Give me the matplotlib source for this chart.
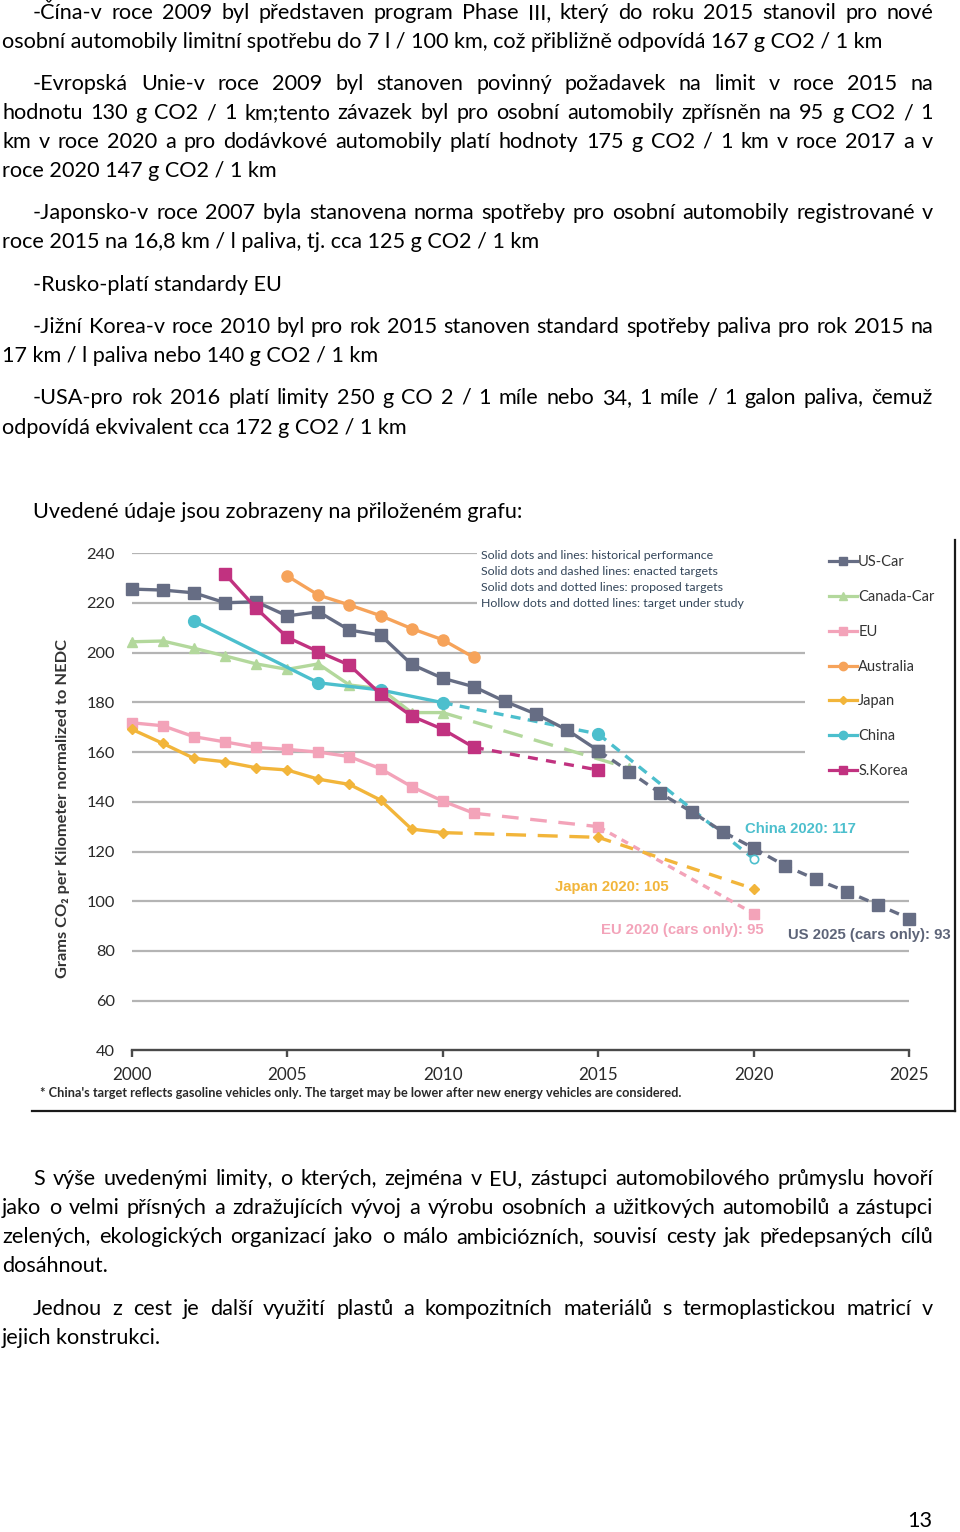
import matplotlib
matplotlib.use("Agg")
import matplotlib.pyplot as plt
from matplotlib.lines import Line2D

# ---------------- data ----------------
us_years = list(range(2000, 2026))
us_values = [225.6, 225.2, 224.1, 220.1, 220.5, 214.8, 216.5, 209.1, 207.1, 195.3,
             189.7, 186.3, 180.4, 175.3, 168.9, 160.6, 152.1, 143.4, 136.0, 128.0,
             121.3, 114.3, 108.8, 103.8, 98.5, 93.0]
us_last_historical = 2015

canada_years = list(range(2000, 2011))
canada_values = [204.4, 204.7, 201.8, 198.7, 195.5, 193.3, 195.5, 187.0, 185.5, 175.9, 175.9]
canada_enacted_years = [2010, 2016]
canada_enacted_values = [175.9, 153.5]

eu_years = list(range(2000, 2012))
eu_values = [171.8, 170.6, 166.2, 164.1, 161.9, 161.1, 160.0, 158.2, 153.3, 146.1, 140.3, 135.4]
eu_enacted_years = [2011, 2015]
eu_enacted_values = [135.4, 130.0]
eu_proposed_years = [2015, 2020]
eu_proposed_values = [130.0, 95.0]

australia_years = list(range(2005, 2012))
australia_values = [230.9, 223.2, 219.2, 214.9, 209.7, 205.2, 198.1]

japan_years = list(range(2000, 2011))
japan_values = [169.2, 163.5, 157.5, 156.1, 153.7, 152.8, 149.1, 147.0, 140.7, 129.0, 127.6]
japan_enacted_years = [2010, 2015]
japan_enacted_values = [127.6, 125.7]
japan_proposed_years = [2015, 2020]
japan_proposed_values = [125.7, 105.0]

china_years = [2002, 2006, 2008, 2010]
china_values = [212.8, 187.9, 185.0, 179.9]
china_enacted_years = [2010, 2015]
china_enacted_values = [179.9, 167.3]
china_study_years = [2015, 2020]
china_study_values = [167.3, 117.0]

korea_years = list(range(2003, 2012))
korea_values = [231.7, 217.9, 206.2, 200.4, 195.0, 183.4, 174.5, 169.2, 161.9]
korea_enacted_years = [2011, 2015]
korea_enacted_values = [161.9, 152.8]

legend_labels = ["US-Car", "Canada-Car", "EU", "Australia", "Japan", "China", "S.Korea"]
x_ticks = [2000, 2005, 2010, 2015, 2020, 2025]
y_ticks = [40, 60, 80, 100, 120, 140, 160, 180, 200, 220, 240]

key_lines = ["Solid dots and lines: historical performance",
             "Solid dots and dashed lines: enacted targets",
             "Solid dots and dotted lines: proposed targets",
             "Hollow dots and dotted lines: target under study"]

target_labels = ["China 2020: 117", "Japan 2020: 105",
                 "EU 2020 (cars only): 95", "US 2025 (cars only): 93"]

y_label = "Grams CO\u2082 per Kilometer normalized to NEDC"
footnote = ("* China's target reflects gasoline vehicles only. The target may be lower "
            "after new energy vehicles are considered.")

text_above = [
    ("-Čína-v roce 2009 byl představen program Phase III, který do roku 2015 stanovil pro nové", True, True),
    ("osobní automobily limitní spotřebu do 7 l / 100 km, což přibližně odpovídá 167 g CO2 / 1 km", False, False),
    ("-Evropská Unie-v roce 2009 byl stanoven povinný požadavek na limit v roce 2015 na", True, True),
    ("hodnotu 130 g CO2 / 1 km;tento závazek byl pro osobní automobily zpřísněn na 95 g CO2 / 1", False, True),
    ("km v roce 2020 a pro dodávkové automobily platí hodnoty 175 g CO2 / 1 km v roce 2017 a v", False, True),
    ("roce 2020 147 g CO2 / 1 km", False, False),
    ("-Japonsko-v roce 2007 byla stanovena norma spotřeby pro osobní automobily registrované v", True, True),
    ("roce 2015 na 16,8 km / l paliva, tj. cca 125 g CO2 / 1 km", False, False),
    ("-Rusko-platí standardy EU", True, False),
    ("-Jižní Korea-v roce 2010 byl pro rok 2015 stanoven standard spotřeby paliva pro rok 2015 na", True, True),
    ("17 km / l paliva nebo 140 g CO2 / 1 km", False, False),
    ("-USA-pro rok 2016 platí limity 250 g CO 2 / 1 míle nebo 34, 1 míle / 1 galon paliva, čemuž", True, True),
    ("odpovídá ekvivalent cca 172 g CO2 / 1 km", False, False),
    ("Uvedené údaje jsou zobrazeny na přiloženém grafu:", True, False),
]
text_below = [
    ("S výše uvedenými limity, o kterých, zejména v EU, zástupci automobilového průmyslu hovoří", True, True),
    ("jako o velmi přísných a zdražujících vývoj a výrobu osobních a užitkových automobilů a zástupci", False, True),
    ("zelených, ekologických organizací jako o málo ambiciózních, souvisí cesty jak předepsaných cílů", False, True),
    ("dosáhnout.", False, False),
    ("Jednou z cest je další využití plastů a kompozitních materiálů s termoplastickou matricí v", True, True),
    ("jejich konstrukci.", False, False),
]
page_number = "13"

# ---------------- layout / style ----------------
W, H = 960, 1532
fig = plt.figure(figsize=(W / 100, H / 100), dpi=100)
fig.patch.set_facecolor("white")
FONT = ["Lato", "DejaVu Sans"]
plt.rcParams["font.family"] = FONT
renderer = fig.canvas.get_renderer()


def fx(px):
    return px / W


def fy(py):
    return 1 - py / H


def width_of(s, size, **kw):
    t = fig.text(0, 0, s, fontsize=size, **kw)
    w = t.get_window_extent(renderer).width
    t.remove()
    return w


def fit(s, target, base=10, **kw):
    return base * target / width_of(s, base, **kw)


C_US = "#666d84"
C_CA = "#b3d89c"
C_EU = "#f3a3b9"
C_AU = "#f6a35a"
C_JP = "#f2b53a"
C_CN = "#4cbfcd"
C_KR = "#c13280"
GRID = "#b4b4b4"
DARK = "#2a2a2a"

# ---- chart axes ----
X0, X1 = 131.7, 909.3
Y_TOP, Y_BOT = 553.3, 1050.3
ax = fig.add_axes([fx(X0), fy(Y_BOT), (X1 - X0) / W, (Y_BOT - Y_TOP) / H])
ax.set_xlim(2000, 2025)
ax.set_ylim(40, 240)
ax.patch.set_alpha(0)
for s in ("left", "top", "right"):
    ax.spines[s].set_visible(False)
ax.spines["bottom"].set_bounds(2000, 2025)
ax.spines["bottom"].set_color("#4a4a4a")
ax.spines["bottom"].set_linewidth(1.7)
ax.set_xticks(x_ticks)
ax.set_xticklabels([str(v) for v in x_ticks])
ax.set_yticks(y_ticks)
ax.set_yticklabels([str(v) for v in y_ticks])
ax.tick_params(axis="x", direction="out", length=5, width=1.7, color="#4a4a4a",
               pad=7, labelsize=12.3, labelcolor=DARK)
ax.tick_params(axis="y", length=0, pad=12, labelsize=11.8, labelcolor=DARK)

# gridlines (extents follow the reference drawing)
grid_extent = {60: 2025, 80: 2025, 100: 2025, 120: 2025, 140: 2025,
               160: 2021.65, 180: 2021.65, 200: 2021.65, 220: 2011.1, 240: 2011.1}
for v in y_ticks[1:]:
    ax.hlines(v, 2000, grid_extent[v], colors=GRID, lw=1.6, zorder=1)

LW = 2.4


def plot(xs, ys, color, marker, ms, dashes=None, lw=LW, z=3, mfc=None, markers=True):
    ln, = ax.plot(xs, ys, color=color, lw=lw, marker=marker if markers else None,
                  ms=ms, mfc=mfc if mfc else color, mec=color, clip_on=False, zorder=z)
    if dashes:
        ln.set_dashes(dashes)
    return ln


def pts(xs, ys, color, marker, ms, z=4, mfc=None, mew=1.0):
    ax.plot(xs, ys, ls="none", marker=marker, ms=ms, color=color,
            mfc=mfc if mfc else color, mec=color, mew=mew, clip_on=False, zorder=z)


# Canada
plot(canada_years, canada_values, C_CA, "^", 7.5, z=3)
plot(canada_enacted_years, canada_enacted_values, C_CA, "^", 7.5, dashes=(6, 3.5), z=3, markers=False)
pts(canada_enacted_years[1:], canada_enacted_values[1:], C_CA, "^", 7.5, z=3)
# EU
plot(eu_years, eu_values, C_EU, "s", 7.5, z=4)
plot(eu_enacted_years, eu_enacted_values, C_EU, "s", 7.5, dashes=(5, 3.5), z=4, markers=False)
plot(eu_proposed_years, eu_proposed_values, C_EU, "s", 7.5, dashes=(2.2, 1.8), z=4, markers=False)
pts(eu_proposed_years, eu_proposed_values, C_EU, "s", 7.5, z=4)
# Japan
plot(japan_years, japan_values, C_JP, "D", 5.5, z=4)
plot(japan_enacted_years, japan_enacted_values, C_JP, "D", 5.5, dashes=(6, 3.5), z=4, markers=False)
plot(japan_proposed_years, japan_proposed_values, C_JP, "D", 5.5, dashes=(4, 3), z=4, markers=False)
pts(japan_proposed_years, japan_proposed_values, C_JP, "D", 5.5, z=4)
# Australia
plot(australia_years, australia_values, C_AU, "o", 8, z=4)
# China
plot(china_years, china_values, C_CN, "o", 8.5, z=5)
plot(china_enacted_years, china_enacted_values, C_CN, "o", 8.5, dashes=(3, 2.2), z=5, markers=False)
plot(china_study_years, china_study_values, C_CN, "o", 8.5, dashes=(3, 2.2), z=5, markers=False)
pts(china_study_years[:1], china_study_values[:1], C_CN, "o", 8.5, z=5)
pts(china_study_years[1:], china_study_values[1:], C_CN, "o", 6, z=7, mfc="white", mew=1.2)
# US
i_hist = us_years.index(us_last_historical)
plot(us_years[:i_hist + 1], us_values[:i_hist + 1], C_US, "s", 8.5, z=6)
plot(us_years[i_hist:], us_values[i_hist:], C_US, "s", 8.5, dashes=(3, 2), z=6)
# S.Korea
plot(korea_years, korea_values, C_KR, "s", 8.5, z=6)
plot(korea_enacted_years, korea_enacted_values, C_KR, "s", 8.5, dashes=(3, 2.5), z=6, markers=False)
pts(korea_enacted_years[1:], korea_enacted_values[1:], C_KR, "s", 8.5, z=6)

# legend
handles = [Line2D([0], [0], color=c, lw=2.3, marker=m, ms=ms, mec=c, mfc=c)
           for c, m, ms in [(C_US, "s", 6), (C_CA, "^", 6), (C_EU, "s", 6), (C_AU, "o", 6),
                            (C_JP, "D", 4.5), (C_CN, "o", 6), (C_KR, "s", 6)]]
leg = fig.legend(handles, legend_labels, loc="upper left", bbox_to_anchor=(fx(829), fy(555.5)),
                 frameon=False, fontsize=10.5, handlelength=1.9, handletextpad=0.1,
                 labelspacing=1.42, borderpad=0, borderaxespad=0)
for t in leg.get_texts():
    t.set_color("#333333")

# key text (line styles explanation)
key_size = fit(key_lines[3], 264, base=8)
for i, s in enumerate(key_lines):
    fig.text(fx(481), fy(556 + i * 15.7), s, fontsize=key_size, color="#34465a",
             ha="left", va="center")

# colored target labels
LAB_FONT = ["Liberation Sans", "DejaVu Sans"]
lab_size = fit(target_labels[3], 164, base=9, family=LAB_FONT, fontweight="bold")
for s, x, y, c in zip(target_labels, [745, 555, 601, 788], [829, 887, 930, 935],
                      [C_CN, C_JP, C_EU, "#5d6478"]):
    fig.text(fx(x), fy(y), s, fontsize=lab_size, family=LAB_FONT, fontweight="bold",
             color=c, ha="left", va="center")

# y label
yl_size = fit(y_label, 338, base=10, fontweight="bold")
fig.text(fx(63), fy(809), y_label, rotation=90, fontsize=yl_size, fontweight="bold",
         color="#333333", ha="center", va="center")

# footnote
fn_size = fit(footnote, 650, base=8, fontweight="bold")
fig.text(fx(40), fy(1093), footnote, fontsize=fn_size, fontweight="bold",
         color="#2a2a2a", ha="left", va="center")

# frame lines of the embedded picture
fig.add_artist(Line2D([fx(955), fx(955)], [fy(540), fy(1111)], color="#1a1a1a", lw=1.6))
fig.add_artist(Line2D([fx(32), fx(955)], [fy(1111), fy(1111)], color="#1a1a1a", lw=1.6))

# ---------------- body text ----------------
LEFT_FIRST, LEFT, RIGHT = 33, 2, 933
above_base = [19, 48, 90, 119, 148, 177, 219, 248, 291, 333, 362, 404, 434, 518]
below_base = [1185, 1214, 1243, 1272, 1315, 1344]
# natural right edges of non-justified lines in the reference
free_right = {1: 893, 5: 270, 7: 538, 8: 283, 10: 376, 12: 405, 13: 536}
free_right_below = {3: 111, 5: 164}

s0 = 14.0
num = den = 0.0
for lines, fr in ((text_above, free_right), (text_below, free_right_below)):
    for i, r in fr.items():
        s, first, _ = lines[i]
        left = LEFT_FIRST if first else LEFT
        num += r - left
        den += width_of(s, s0)
body_size = s0 * num / den
# make sure justified lines fit
for lines in (text_above, text_below):
    for s, first, just in lines:
        if just:
            left = LEFT_FIRST if first else LEFT
            w = width_of(s, body_size)
            if w > (RIGHT - left):
                body_size *= (RIGHT - left) / w * 0.995


def draw_lines(lines, bases):
    for (s, first, just), b in zip(lines, bases):
        left = LEFT_FIRST if first else LEFT
        if not just:
            fig.text(fx(left), fy(b), s, fontsize=body_size, color="black",
                     ha="left", va="baseline")
            continue
        words = s.split(" ")
        ws = [width_of(w, body_size) for w in words]
        gap = (RIGHT - left - sum(ws)) / (len(words) - 1)
        x = left
        for w, wd in zip(words, ws):
            fig.text(fx(x), fy(b), w, fontsize=body_size, color="black",
                     ha="left", va="baseline")
            x += wd + gap


draw_lines(text_above, above_base)
draw_lines(text_below, below_base)
fig.text(fx(932), fy(1527), page_number, fontsize=body_size, color="black",
         ha="right", va="baseline")

fig.savefig("out.png", dpi=100, facecolor="white")
